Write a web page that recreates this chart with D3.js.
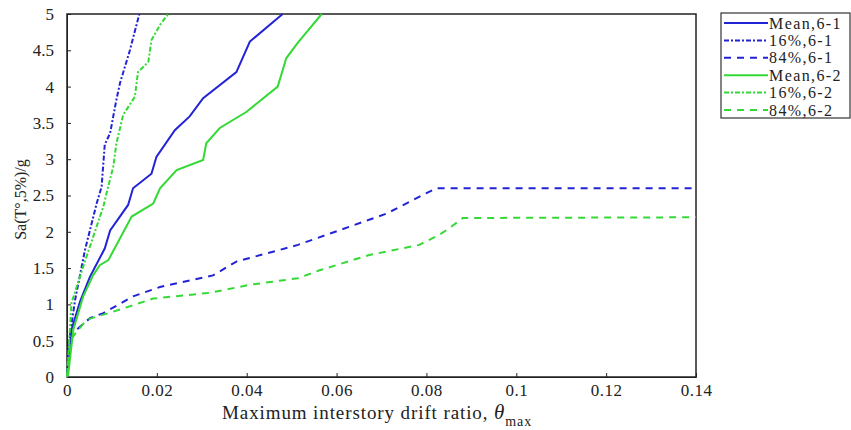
<!DOCTYPE html>
<meta charset="utf-8">
<style>
body { margin: 0; background: #fff; }
text { font-family: "Liberation Serif", "Times New Roman", serif; fill: #222; }
.axis path, .axis line { stroke: #222; }
</style>
<body>
<script src="https://d3js.org/d3.v7.min.js"></script>
<script>

// ---- data: [drift ratio, Sa/g] ----
var mean61 = [[0,0],[0.0003,0.14],[0.001,0.65],[0.0029,1.04],[0.0051,1.38],[0.0084,1.77],[0.0096,2.02],
  [0.0136,2.37],[0.0147,2.6],[0.0188,2.8],[0.0199,3.03],[0.024,3.4],[0.0273,3.59],[0.0303,3.84],
  [0.0377,4.2],[0.0407,4.62],[0.048,5]];
var p16_61 = [[0,0],[0.0004,0.3],[0.0007,0.6],[0.0018,1.06],[0.004,1.75],[0.0066,2.39],[0.0077,2.62],
  [0.0084,3.2],[0.0096,3.36],[0.011,3.82],[0.0118,4.05],[0.014,4.5],[0.0161,5]];
var p84_61 = [[0,0],[0.0007,0.6],[0.0025,0.67],[0.0051,0.81],[0.0081,0.88],[0.0147,1.11],[0.0207,1.24],
  [0.0325,1.4],[0.0377,1.59],[0.0473,1.75],[0.0514,1.82],[0.0711,2.25],[0.0799,2.53],[0.0822,2.6],[0.14,2.6]];
var mean62 = [[0,0],[0.0003,0.05],[0.0014,0.65],[0.0036,1.11],[0.0058,1.4],[0.0073,1.54],[0.0092,1.61],
  [0.0144,2.21],[0.0192,2.39],[0.0207,2.6],[0.0244,2.85],[0.0303,2.99],[0.031,3.22],[0.034,3.43],
  [0.0399,3.65],[0.0469,4.0],[0.0488,4.39],[0.0513,4.6],[0.0567,5]];
var p16_62 = [[0,0],[0.0004,0.4],[0.001,1.02],[0.0036,1.52],[0.0081,2.35],[0.0088,2.53],[0.0103,2.9],
  [0.011,3.22],[0.0125,3.61],[0.0151,3.86],[0.0158,4.2],[0.0181,4.34],[0.0188,4.64],[0.0207,4.85],[0.0225,5]];
var p84_62 = [[0,0],[0.0007,0.5],[0.0021,0.62],[0.0044,0.79],[0.0103,0.9],[0.0192,1.08],[0.0318,1.16],
  [0.0407,1.27],[0.0514,1.36],[0.0562,1.47],[0.0673,1.68],[0.0784,1.82],[0.0829,1.96],[0.0851,2.05],
  [0.0881,2.19],[0.14,2.2]];

var seriesNames = ["Mean,6-1","16%,6-1","84%,6-1","Mean,6-2","16%,6-2","84%,6-2"];
var xTicks = [0,0.02,0.04,0.06,0.08,0.1,0.12,0.14];
var yTicks = [0,0.5,1,1.5,2,2.5,3,3.5,4,4.5,5];

var blue = "#2323d6", green = "#35d935";
var series = [
  {name: seriesNames[0], data: mean61, color: blue, dash: null},
  {name: seriesNames[1], data: p16_61, color: blue, dash: "5,2,2,2"},
  {name: seriesNames[2], data: p84_61, color: blue, dash: "7,6"},
  {name: seriesNames[3], data: mean62, color: green, dash: null},
  {name: seriesNames[4], data: p16_62, color: green, dash: "5,2,2,2"},
  {name: seriesNames[5], data: p84_62, color: green, dash: "7,6"}
];

// plot box
var margin = {top: 14, right: 155, bottom: 53, left: 67},
    width = 851 - margin.left - margin.right,
    height = 430 - margin.top - margin.bottom;

var x = d3.scaleLinear().domain([0, 0.14]).range([0, width]);
var y = d3.scaleLinear().domain([0, 5]).range([height, 0]);

var svg = d3.select("body").append("svg")
    .attr("width", 851)
    .attr("height", 430);
var g = svg.append("g")
    .attr("transform", "translate(" + margin.left + "," + margin.top + ")");

// axes, ticks pointing inward
g.append("g").attr("class", "axis")
    .attr("transform", "translate(0," + height + ")")
    .call(d3.axisBottom(x).tickValues(xTicks).tickSizeInner(-4).tickSizeOuter(0)
      .tickPadding(7).tickFormat(function(d) { return d3.format("")(+d.toFixed(2)); }))
    .call(function(a) { a.selectAll("text").style("font-size", "17px").style("letter-spacing", "0.5px"); });

g.append("g").attr("class", "axis")
    .call(d3.axisLeft(y).tickValues(yTicks).tickSizeInner(-4).tickSizeOuter(0)
      .tickPadding(13).tickFormat(d3.format("")))
    .call(function(a) { a.selectAll("text").style("font-size", "17px"); });

// box
g.append("rect")
    .attr("width", width).attr("height", height)
    .attr("fill", "none").attr("stroke", "#222").attr("stroke-width", 1.5);

// lines
var line = d3.line()
    .x(function(d) { return x(d[0]); })
    .y(function(d) { return y(d[1]); });

g.selectAll(".series").data(series).enter().append("path")
    .attr("class", "series")
    .attr("d", function(d) { return line(d.data); })
    .attr("fill", "none")
    .attr("stroke", function(d) { return d.color; })
    .attr("stroke-width", 2)
    .attr("stroke-dasharray", function(d) { return d.dash; });

// axis titles
var xt = svg.append("text")
    .attr("x", 222)
    .attr("y", 419)
    .style("font-size", "19px")
    .style("letter-spacing", "0.9px")
    .text("Maximum interstory drift ratio, ");
xt.append("tspan").style("font-style", "italic").style("font-size", "21px").text("θ");
xt.append("tspan").attr("dy", 7).style("font-size", "14px").text("max");

svg.append("text")
    .attr("transform", "translate(26," + (margin.top + height / 2 + 4) + ") rotate(-90)")
    .attr("text-anchor", "middle")
    .style("font-size", "16px")
    .text("Sa(T°,5%)/g");

// legend
var lg = svg.append("g").attr("transform", "translate(721,13)");
lg.append("rect").attr("width", 129).attr("height", 105)
    .attr("fill", "#fff").attr("stroke", "#333").attr("stroke-width", 1.2);
var item = lg.selectAll(".item").data(series).enter().append("g")
    .attr("transform", function(d, i) { return "translate(0," + (10 + i * 17.4) + ")"; });
item.append("line")
    .attr("x1", 3).attr("x2", 47)
    .attr("stroke", function(d) { return d.color; })
    .attr("stroke-width", 2)
    .attr("stroke-dasharray", function(d) { return d.dash; });
item.append("text")
    .attr("x", 48).attr("dy", "0.35em")
    .style("font-size", "16px")
    .style("letter-spacing", "1.4px")
    .text(function(d) { return d.name; });

</script>
</body>
